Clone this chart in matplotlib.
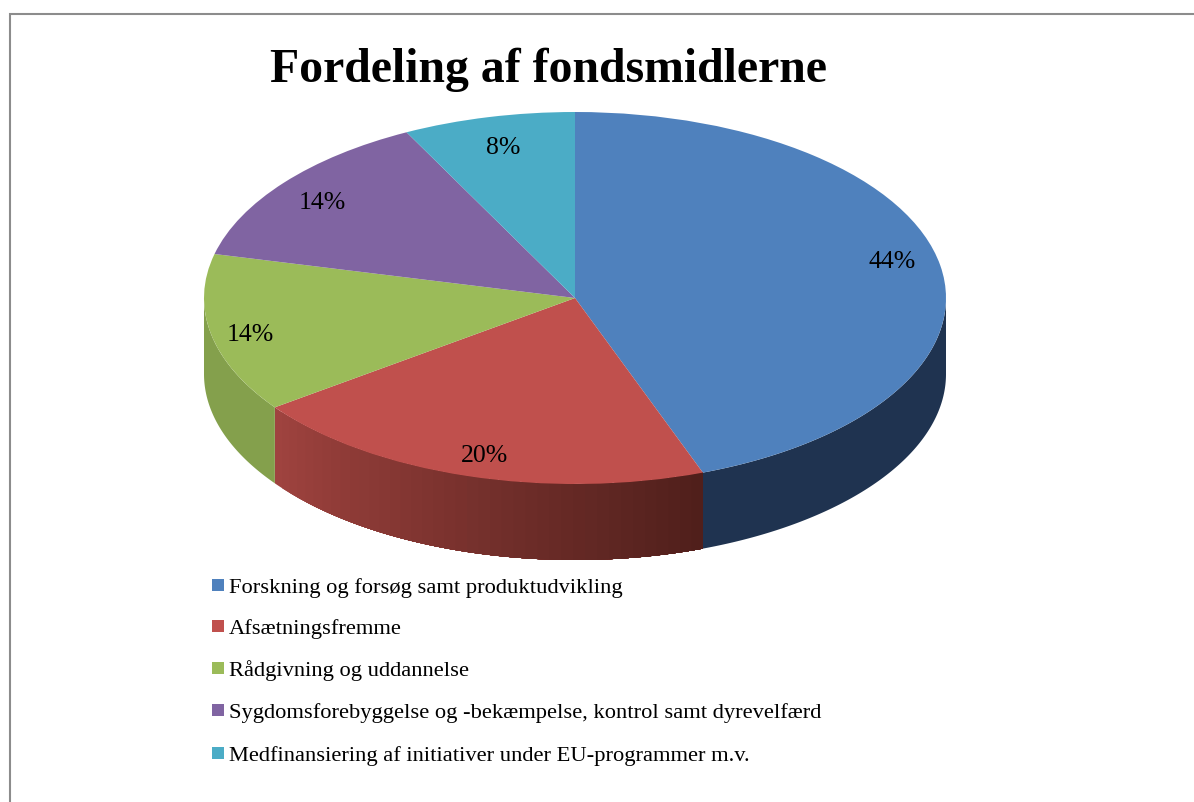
import numpy as np
import matplotlib
matplotlib.use("Agg")
import matplotlib.pyplot as plt
from matplotlib.colors import to_rgb
from matplotlib.patches import Rectangle

title = "Fordeling af fondsmidlerne"
categories = [
    "Forskning og forsøg samt produktudvikling",
    "Afsætningsfremme",
    "Rådgivning og uddannelse",
    "Sygdomsforebyggelse og -bekæmpelse, kontrol samt dyrevelfærd",
    "Medfinansiering af initiativer under EU-programmer m.v.",
]
values = [44.4, 20.6, 13.8, 13.7, 7.5]
value_labels = ["44%", "20%", "14%", "14%", "8%"]
colors = ["#4f81bd", "#c0504d", "#9bbb59", "#8064a2", "#4bacc6"]
wall_left = ["#1f3350", "#a0433f", "#84a04c", "#5e4a78", "#37808f"]
wall_right = ["#1f3350", "#4f1f1b", "#84a04c", "#5e4a78", "#37808f"]

W, H = 1194, 803
CX, CY, RX, RY, DEPTH = 575, 299, 371, 186, 76
label_xy = [(892, 262), (484, 456), (250, 335), (322, 203), (503, 148)]
legend_y = [586, 627, 669, 711, 754]

plt.rcParams["font.family"] = ["Liberation Serif", "DejaVu Serif"]
fig = plt.figure(figsize=(W / 100, H / 100), dpi=100, facecolor="white")
ax = fig.add_axes([0, 0, 1, 1])
ax.set_xlim(0, W)
ax.set_ylim(H, 0)
ax.axis("off")

# page frame
ax.plot([9.5, 9.5, W], [H, 14.5, 14.5], color="#8c8c8c", lw=1.5, solid_joinstyle="miter")

# side wall of the visible front half, from the shares in values
edges = np.cumsum([0] + values) / sum(values) * 2 * np.pi
for i, val in enumerate(values):
    a0, a1 = max(edges[i], np.pi / 2), min(edges[i + 1], 3 * np.pi / 2)
    if a1 <= a0:
        continue
    cL, cR = np.array(to_rgb(wall_left[i])), np.array(to_rgb(wall_right[i]))
    n = 40 if wall_left[i] != wall_right[i] else 1
    steps = np.linspace(a0, a1, n + 1)
    # each band runs to the end of the segment, the next band paints over it
    for k in range(n):
        j = n - 1 - k if n > 1 else 0
        t = np.linspace(a0, steps[j + 1], 200)
        x = CX + RX * np.sin(t)
        y = CY - RY * np.cos(t)
        f = 1 - (j + .5) / n
        col = cL * (1 - f) + cR * f
        ax.fill(np.r_[x, x[::-1]], np.r_[y, y[::-1] + DEPTH], color=col, lw=0, zorder=1)

# top face: a unit pie stretched into the ellipse by the axes box
pax = fig.add_axes([(CX - RX) / W, 1 - (CY + RY) / H, 2 * RX / W, 2 * RY / H], zorder=2)
pax.pie(values, colors=colors, startangle=90, counterclock=False, radius=1,
        wedgeprops=dict(linewidth=0, antialiased=True))
pax.set_aspect("auto")
pax.set_xlim(-1, 1)
pax.set_ylim(-1, 1)
pax.patch.set_alpha(0)

# overlay for text
tax = fig.add_axes([0, 0, 1, 1], zorder=3)
tax.set_xlim(0, W)
tax.set_ylim(H, 0)
tax.axis("off")
tax.text(548, 70, title, fontsize=34.4, fontweight="bold", ha="center", va="center", color="black")
for (x, y), s in zip(label_xy, value_labels):
    tax.text(x, y, s, fontsize=18.5, ha="center", va="center", color="black")
for y, s, c in zip(legend_y, categories, colors):
    tax.add_patch(Rectangle((212, y - 6), 12, 12, facecolor=c, edgecolor="none"))
    tax.text(229, y + 2, s, fontsize=16.2, ha="left", va="center", color="black")

fig.savefig("out.png", dpi=100, facecolor="white")
